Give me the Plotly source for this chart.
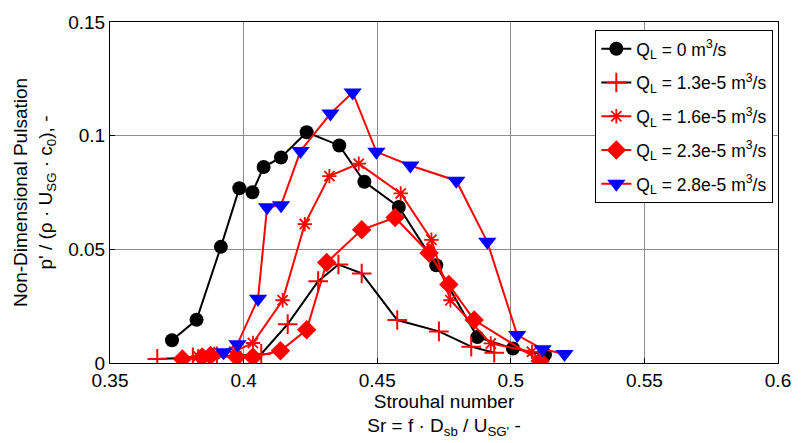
import plotly.graph_objects as go

# Q_L = 0
sr0 = [0.3732, 0.3824, 0.3915, 0.3984, 0.4033, 0.4075, 0.4140, 0.4236, 0.4358, 0.4452, 0.4581, 0.4721, 0.4875, 0.5008, 0.5128]
p0 = [0.0100, 0.0190, 0.0511, 0.0769, 0.0751, 0.0862, 0.0904, 0.1015, 0.0957, 0.0797, 0.0686, 0.0430, 0.0114, 0.0064, 0.0036]

# Q_L = 1.3e-5
sr1 = [0.3677, 0.3810, 0.3900, 0.3980, 0.4066, 0.4165, 0.4279, 0.4355, 0.4442, 0.4575, 0.4731, 0.4852, 0.4938]
p1 = [0.0018, 0.0025, 0.0030, 0.0032, 0.0040, 0.0171, 0.0360, 0.0433, 0.0394, 0.0189, 0.0139, 0.0072, 0.0045]

# Q_L = 1.6e-5
sr2 = [0.3830, 0.3890, 0.3965, 0.4035, 0.4146, 0.4229, 0.4321, 0.4431, 0.4588, 0.4703, 0.4774, 0.4925, 0.5079]
p2 = [0.0030, 0.0040, 0.0050, 0.0088, 0.0276, 0.0611, 0.0822, 0.0877, 0.0746, 0.0542, 0.0276, 0.0086, 0.0049]

# Q_L = 2.3e-5
sr3 = [0.3771, 0.3845, 0.3876, 0.3974, 0.4035, 0.4138, 0.4236, 0.4311, 0.4442, 0.4567, 0.4694, 0.4768, 0.4863, 0.5110]
p3 = [0.0018, 0.0026, 0.0033, 0.0026, 0.0026, 0.0054, 0.0146, 0.0442, 0.0586, 0.0640, 0.0484, 0.0345, 0.0189, 0.0009]

# Q_L = 2.8e-5
sr4 = [0.3925, 0.3977, 0.4054, 0.4088, 0.4140, 0.4213, 0.4325, 0.4408, 0.4497, 0.4624, 0.4796, 0.4912, 0.5024, 0.5119, 0.5201]
p4 = [0.0047, 0.0083, 0.0283, 0.0685, 0.0694, 0.0933, 0.1097, 0.1190, 0.0929, 0.0869, 0.0802, 0.0533, 0.0123, 0.0061, 0.0040]

names = ["Q<sub>L</sub> = 0 m<sup>3</sup>/s",
         "Q<sub>L</sub> = 1.3e-5 m<sup>3</sup>/s",
         "Q<sub>L</sub> = 1.6e-5 m<sup>3</sup>/s",
         "Q<sub>L</sub> = 2.3e-5 m<sup>3</sup>/s",
         "Q<sub>L</sub> = 2.8e-5 m<sup>3</sup>/s"]

xticks = [0.35, 0.4, 0.45, 0.5, 0.55, 0.6]
xticklabels = ["0.35", "0.4", "0.45", "0.5", "0.55", "0.6"]
yticks = [0, 0.05, 0.1, 0.15]
yticklabels = ["0", "0.05", "0.1", "0.15"]

fig = go.Figure()
fig.add_trace(go.Scatter(x=sr0, y=p0, name=names[0], mode="lines+markers", legendgroup="g0",
                         line=dict(color="black", width=2),
                         marker=dict(symbol="circle", size=14, color="black")))
fig.add_trace(go.Scatter(x=sr1, y=p1, name=names[1], mode="lines+markers", legendgroup="g1",
                         line=dict(color="black", width=2),
                         marker=dict(symbol="cross-thin", size=14, color="red",
                                     line=dict(color="red", width=2))))
fig.add_trace(go.Scatter(x=sr2, y=p2, name=names[2], mode="lines+markers", legendgroup="g2",
                         line=dict(color="red", width=2),
                         marker=dict(symbol="asterisk", size=12, color="red",
                                     line=dict(color="red", width=1.8))))
fig.add_trace(go.Scatter(x=sr3, y=p3, name=names[3], mode="lines+markers", legendgroup="g3",
                         line=dict(color="red", width=2),
                         marker=dict(symbol="diamond", size=15, color="red")))
fig.add_trace(go.Scatter(x=sr4, y=p4, name=names[4], mode="lines+markers", legendgroup="g4",
                         line=dict(color="red", width=2),
                         marker=dict(symbol="triangle-down", size=16, color="blue")))

font = "Liberation Sans, Arial, sans-serif"
fig.update_layout(
    width=803, height=443,
    margin=dict(l=110, r=16, t=16, b=77),
    paper_bgcolor="white", plot_bgcolor="white",
    font=dict(family=font, size=19, color="black"),
    showlegend=True,
    legend=dict(x=0.993, y=0.977, xanchor="right", yanchor="top",
                bgcolor="white", bordercolor="black", borderwidth=1,
                font=dict(family=font, size=17.5, color="black"),
                tracegroupgap=8),
)
fig.update_xaxes(range=[0.35, 0.6], tickvals=xticks, ticktext=xticklabels,
                 showgrid=True, gridcolor="#8c8c8c", gridwidth=1,
                 showline=True, linecolor="black", linewidth=1, mirror=True,
                 ticks="inside", ticklen=5, tickcolor="black", zeroline=False,
                 tickfont=dict(size=19),
                 title=dict(text="Strouhal number<br>Sr = f · D<sub>sb</sub> / U<sub>SG'</sub> -",
                            font=dict(size=19), standoff=2))
fig.update_yaxes(range=[0, 0.15], tickvals=yticks, ticktext=yticklabels,
                 showgrid=True, gridcolor="#8c8c8c", gridwidth=1,
                 showline=True, linecolor="black", linewidth=1, mirror=True,
                 ticks="inside", ticklen=5, tickcolor="black", zeroline=False,
                 tickfont=dict(size=19),
                 title=dict(text="Non-Dimensional Pulsation<br>p' / (ρ · U<sub>SG</sub> · c<sub>0</sub>), -",
                            font=dict(size=19), standoff=10))

fig.write_html("out.html")
